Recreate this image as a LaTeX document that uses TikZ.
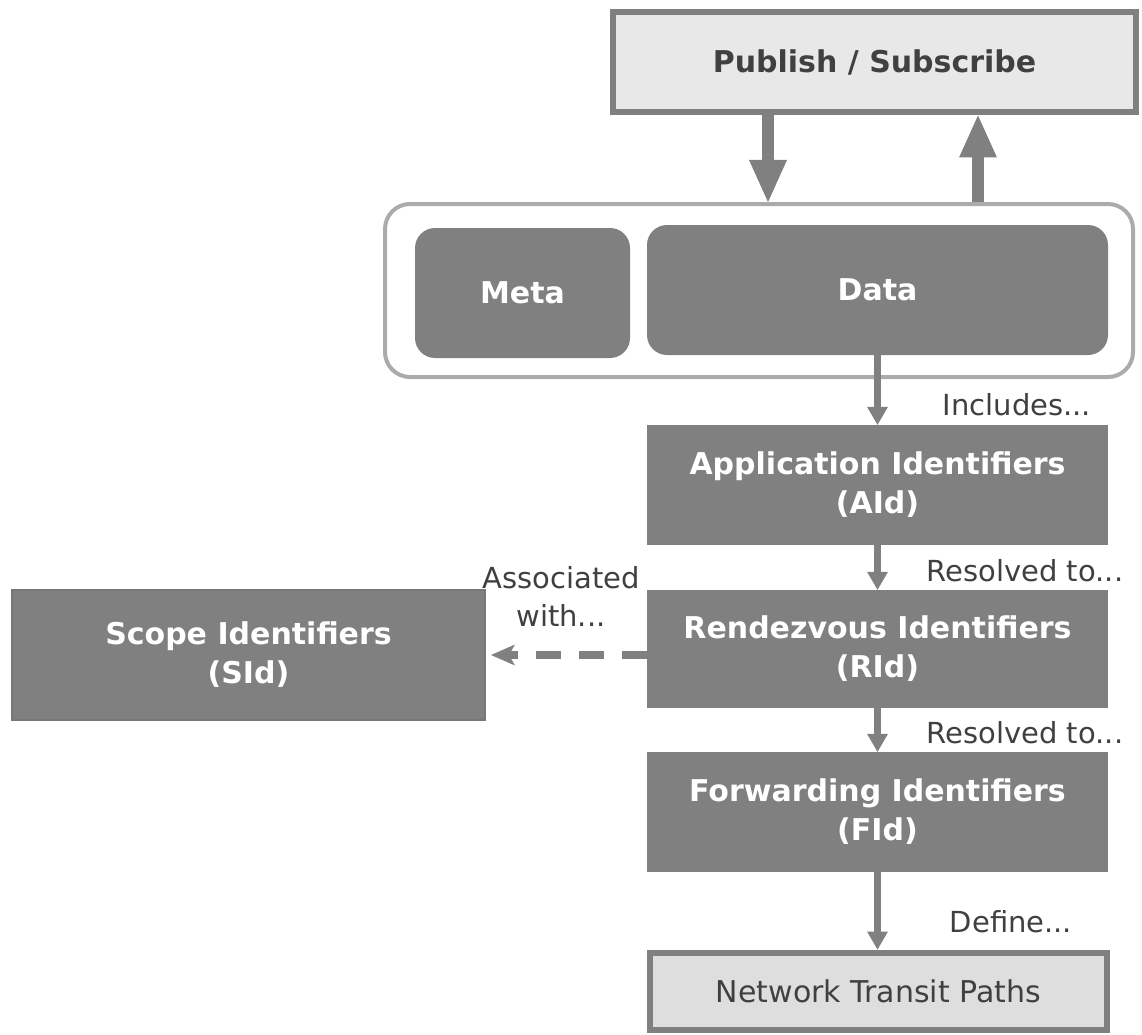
\documentclass[tikz,border=0pt]{standalone}
\usepackage{fontspec}
\setmainfont{DejaVu Sans}
\usetikzlibrary{arrows.meta}
\definecolor{boxgray}{HTML}{808080}
\definecolor{rimgray}{HTML}{ABABAB}
\definecolor{palegray}{HTML}{E8E8E8}
\definecolor{pathgray}{HTML}{DEDEDE}
\definecolor{inkgray}{HTML}{404040}
\newcommand{\trail}{...}
\begin{document}
\begin{tikzpicture}[x=1pt,y=-1pt,
		idbox/.style={fill=boxgray,text=white,inner sep=0pt,align=center,
			minimum width=461,font=\fontsize{30}{39}\selectfont\bfseries},
		lightbox/.style={fill=palegray,draw=boxgray,line width=6pt,inner sep=0pt,
			text=inkgray},
		lbl/.style={text=inkgray,align=center,inner sep=0pt,
			font=\fontsize{29}{38}\selectfont},
		flow/.style={draw=boxgray,line width=7pt,
			-{Triangle[width=21pt,length=18pt,line width=0pt]}},
		bigflow/.style={draw=boxgray,line width=12pt,
			-{Triangle[width=38pt,length=42pt,line width=0pt]}}]
	\useasboundingbox (0,0) rectangle (1142,1035);
	% top of the stack
	\path (874.5,62.5) node[lightbox,minimum width=523,minimum height=100,
		font=\fontsize{30}{39}\selectfont\bfseries](pubsub){Publish / Subscribe};
	\path (759,290.5) node[draw=rimgray,line width=4pt,rounded corners=25pt,
		minimum width=748,minimum height=173](container){};
	\path (522.5,293) node[idbox,rounded corners=20pt,minimum width=215,
		minimum height=130](meta){Meta};
	\path (877.5,290) node[idbox,rounded corners=20pt,
		minimum height=130](data){Data};
	\draw[bigflow] (pubsub.south -| 768,0)--(container.north -| 768,0);
	\draw[bigflow] (container.north -| 978,0)--(pubsub.south -| 978,0);
	% identifier chain
	\foreach \y/\h/\nm/\texn in {485/120/aid/{Application Identifiers\\(AId)},
		649/118/rid/{Rendezvous Identifiers\\(RId)},
		812/120/fid/{Forwarding Identifiers\\(FId)}}
	\path (877.5,\y) node[idbox,minimum height=\h](\nm){\texn};
	\path (248.5,655) node[idbox,draw=boxgray!94!black,line width=2pt,
		minimum width=473,minimum height=130](sid){Scope Identifiers\\(SId)};
	\path (878.5,991) node[lightbox,fill=pathgray,minimum width=457,
		minimum height=77,font=\fontsize{30}{39}\selectfont](paths){Network Transit Paths};
	\foreach \a/\b in {data/aid,aid/rid,rid/fid,fid/paths}
	\draw[flow] (\a.south)--(\a.south |- \b.north);
	\draw[flow,line width=7.5pt,dash pattern=on 25pt off 18pt,
		-{Stealth[width=21pt,length=24pt,inset=6pt,line width=0pt]}]
	([yshift=-6]rid.west)--([yshift=-6,xshift=5]rid.west -| sid.east);
	% labels on the connectors
	\foreach \x/\y/\nm/\texn in {1017/405/inc/Includes\trail,
		1025/571/resa/Resolved to\trail,1025/733/resb/Resolved to\trail,
		1011/922/def/Define\trail,561/596/assoc/{Associated\\with\trail}}
	\path (\x,\y) node[lbl](\nm){\texn};
\end{tikzpicture}
\end{document}
